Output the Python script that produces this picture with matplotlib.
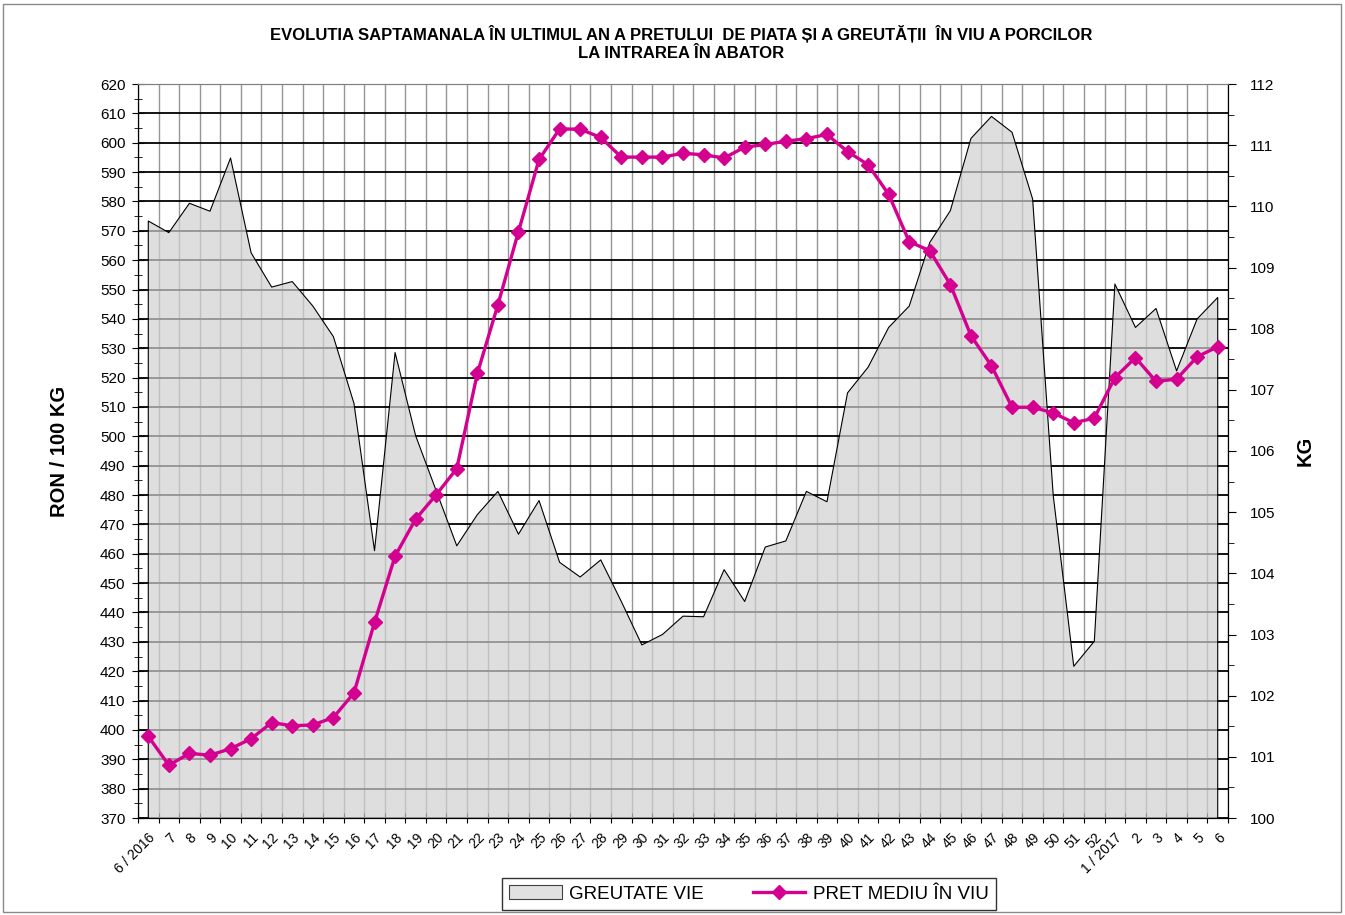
import matplotlib
matplotlib.use('Agg')
import matplotlib.pyplot as plt
import matplotlib.patches as mpatches
from matplotlib.lines import Line2D
import numpy as np

plt.rcParams['font.family'] = ['Liberation Sans', 'DejaVu Sans']

# saptamani (categorii)
weeks = ['6 / 2016'] + [str(i) for i in range(7, 53)] + ['1 / 2017', '2', '3', '4', '5', '6']

# pret mediu in viu, RON / 100 KG (axa stanga)
price = [397.8, 388.0, 392.0, 391.4, 393.6, 397.0, 402.5, 401.4, 401.7, 404.2,
         412.6, 436.6, 459.2, 471.8, 480.1, 489.0, 521.4, 544.8, 569.7, 594.3,
         604.7, 604.6, 601.8, 595.1, 595.1, 595.1, 596.4, 595.9, 594.8, 598.5,
         599.4, 600.5, 601.4, 602.8, 597.0, 592.5, 582.4, 566.3, 563.2, 551.7,
         534.3, 524.0, 509.9, 509.9, 508.0, 504.6, 506.2, 520.0, 526.8, 518.7,
         519.5, 527.1, 530.5]

# greutate vie, KG (axa dreapta)
weight = [109.76, 109.57, 110.05, 109.92, 110.79, 109.24, 108.68, 108.77, 108.37, 107.87,
          106.78, 104.37, 107.61, 106.25, 105.35, 104.45, 104.96, 105.34, 104.64, 105.19,
          104.18, 103.94, 104.22, 103.54, 102.83, 103.00, 103.30, 103.29, 104.06, 103.54,
          104.43, 104.53, 105.34, 105.17, 106.95, 107.37, 108.02, 108.37, 109.41, 109.93,
          111.11, 111.47, 111.21, 110.12, 105.28, 102.48, 102.89, 108.73, 108.02, 108.33,
          107.31, 108.16, 108.51]

title1 = 'EVOLUTIA SAPTAMANALA ÎN ULTIMUL AN A PRETULUI  DE PIATA ȘI A GREUTĂȚII  ÎN VIU A PORCILOR'
title2 = 'LA INTRAREA ÎN ABATOR'

magenta = '#D4008F'

fig = plt.figure(figsize=(13.45, 9.15), dpi=100)
ax = fig.add_axes([138/1345, 1-818/915, 1090/1345, 734/915])
ax2 = ax.twinx()

x = np.arange(len(weeks))
ax.set_xlim(-0.5, len(weeks)-0.5)
ax.set_ylim(370, 620)
ax2.set_ylim(100, 112)

# axa stanga + grila orizontala
ax.set_yticks(np.arange(370, 621, 10))
ax.set_yticks(np.arange(375, 620, 10), minor=True)
ax.yaxis.grid(True, which='major', color='black', lw=1.3)
ax.tick_params(axis='y', which='major', direction='inout', length=8, labelsize=11, pad=5)
ax.tick_params(axis='y', which='minor', direction='inout', length=6)

# axa x: grila la limitele categoriilor, etichete la mijloc
ax.set_xticks(np.arange(-0.5, len(weeks)))
ax.set_xticklabels([])
ax.set_xticks(x, minor=True)
ax.set_xticklabels(weeks, minor=True, rotation=45, ha='right', va='top',
                   rotation_mode='anchor', fontsize=10)
ax.xaxis.grid(True, which='major', color='#959595', lw=1)
ax.tick_params(axis='x', which='major', direction='inout', length=7)
ax.tick_params(axis='x', which='minor', length=0, pad=9)
ax.set_axisbelow(True)

# axa dreapta
ax2.set_yticks(np.arange(100, 113, 1))
ax2.set_yticks(np.arange(100.5, 112, 1), minor=True)
ax2.tick_params(axis='y', which='major', direction='out', length=6, labelsize=11, pad=10)
ax2.tick_params(axis='y', which='minor', direction='out', length=4)

ax.spines['top'].set_color('#808080')
ax2.spines['top'].set_color('#808080')

# zona greutate vie
xs = np.r_[x[0], x, x[-1]]
ys = np.r_[100, weight, 100]
ax2.fill(xs, ys, facecolor=(0.82, 0.82, 0.82), alpha=0.7, edgecolor='none')
ax2.plot(xs, ys, color='black', lw=0.8)

# pret mediu (pe scala din stanga)
ax2.plot(x, price, transform=ax.transData, color=magenta, lw=2.4,
         marker='D', markersize=7, markerfacecolor=magenta, markeredgecolor=magenta)

ax.set_ylabel('RON / 100 KG', fontsize=14.5, fontweight='bold', labelpad=22)
ax2.set_ylabel('KG', fontsize=14.5, fontweight='bold', rotation=90, labelpad=14)

fig.text(681/1345, 1-34/915, title1, ha='center', va='center', fontsize=12, fontweight='bold')
fig.text(681/1345, 1-53/915, title2, ha='center', va='center', fontsize=12, fontweight='bold')

h1 = mpatches.Patch(facecolor='#e1e1e1', edgecolor='#404040', lw=0.8)
h2 = Line2D([], [], color=magenta, lw=2.4, marker='D', markersize=7)
leg = fig.legend([h1, h2], ['GREUTATE VIE', 'PRET MEDIU ÎN VIU'], ncol=2,
                 loc='center', bbox_to_anchor=(749/1345, 1-894/915), fontsize=13.5,
                 frameon=True, fancybox=False, edgecolor='black', handlelength=2.8,
                 columnspacing=2.6, borderpad=0.4, handletextpad=0.4, borderaxespad=0)
leg.get_frame().set_linewidth(1)

fig.add_artist(mpatches.Rectangle((3/1345, 3/915), 1338/1345, 908/915, transform=fig.transFigure,
                                  fill=False, edgecolor='#8a8a8a', lw=1))

fig.savefig('out.png', dpi=100)
